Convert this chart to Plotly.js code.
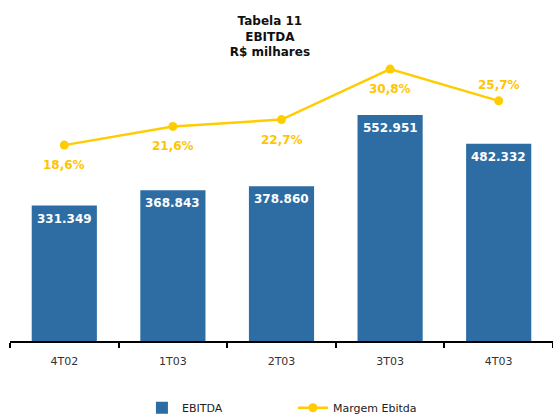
<!DOCTYPE html>
<html><head><meta charset="utf-8">
<script src="https://cdn.plot.ly/plotly-3.0.1.min.js"></script>
<style>body{margin:0;background:#fff}#chart{width:553px;height:414px}</style>
</head><body><div id="chart"></div>
<script>
var categories = ["4T02", "1T03", "2T03", "3T03", "4T03"];
var ebitda = [331349, 368843, 378860, 552951, 482332];
var ebitdaLabels = ["331.349", "368.843", "378.860", "552.951", "482.332"];
var margem = [18.6, 21.6, 22.7, 30.8, 25.7];
var margemLabels = ["18,6%", "21,6%", "22,7%", "30,8%", "25,7%"];
var margemLabelBelow = [true, true, true, true, false];

var barColor = "#2D6DA3";
var lineColor = "#FFCC00";
var labelYellow = "#FFC400";

var traces = [
  {
    type: "bar", name: "EBITDA", x: categories, y: ebitda,
    marker: {color: barColor}, width: 0.6, hoverinfo: "skip"
  },
  {
    type: "scatter", mode: "lines+markers", name: "Margem Ebitda",
    x: categories, y: margem, yaxis: "y2",
    line: {color: lineColor, width: 2.5}, marker: {color: lineColor, size: 9},
    cliponaxis: false
  }
];

var annotations = [];
categories.forEach(function (c, i) {
  annotations.push({
    x: c, y: ebitda[i], xref: "x", yref: "y", text: "<b>" + ebitdaLabels[i] + "</b>",
    showarrow: false, yanchor: "middle", yshift: -13,
    font: {family: "DejaVu Sans", size: 12, color: "#ffffff"}
  });
  annotations.push({
    x: c, y: margem[i], xref: "x", yref: "y2", text: "<b>" + margemLabels[i] + "</b>",
    showarrow: false, yanchor: "middle", yshift: margemLabelBelow[i] ? -20 : 16,
    font: {family: "DejaVu Sans", size: 12, color: labelYellow}
  });
});

var layout = {
  width: 553, height: 414,
  margin: {l: 10, r: 0, t: 60, b: 73},
  paper_bgcolor: "#ffffff", plot_bgcolor: "#ffffff",
  font: {family: "DejaVu Sans", color: "#333333"},
  title: {
    text: "<b>Tabela 11<br>EBITDA<br>R$ milhares</b>",
    x: 0.488, xanchor: "center", y: 0.939, yanchor: "top",
    font: {family: "DejaVu Sans", size: 12, color: "#111111"}
  },
  xaxis: {
    type: "category", showline: true, linecolor: "#000000", linewidth: 2,
    ticks: "outside", tickson: "boundaries", ticklen: 5, tickwidth: 2, tickcolor: "#000000",
    ticklabelstandoff: 9,
    tickfont: {family: "DejaVu Sans", size: 11, color: "#333333"},
    showgrid: false, zeroline: false, fixedrange: true
  },
  yaxis: {range: [0, 687500], visible: false, showgrid: false, zeroline: false},
  yaxis2: {range: [-12.84, 32.26], overlaying: "y", side: "right", visible: false, showgrid: false, zeroline: false},
  annotations: annotations,
  showlegend: true,
  legend: {
    orientation: "h", x: 0.243, xanchor: "left", yref: "container", y: 0.05, yanchor: "top",
    font: {family: "DejaVu Sans", size: 11, color: "#222222"},
    entrywidth: 106, entrywidthmode: "pixels", bgcolor: "rgba(0,0,0,0)"
  }
};

Plotly.newPlot("chart", traces, layout, {displayModeBar: false, staticPlot: true});
</script>
</body></html>
